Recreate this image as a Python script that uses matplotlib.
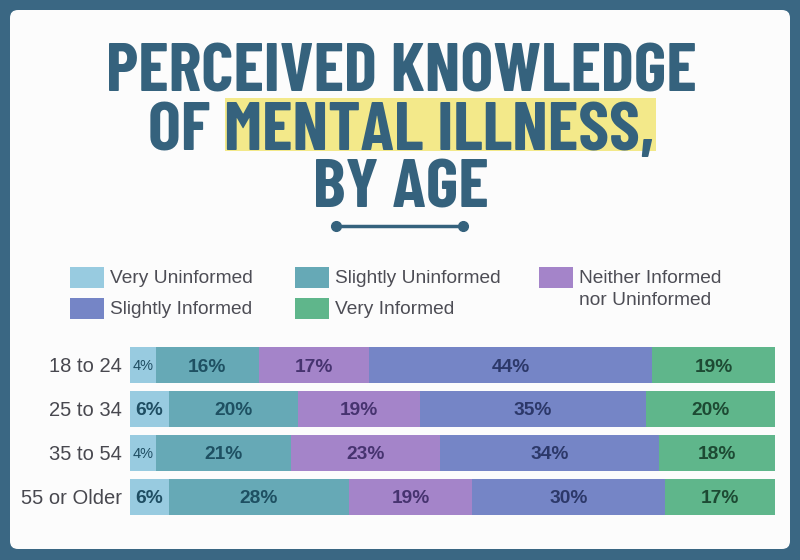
import matplotlib
matplotlib.use("Agg")
import matplotlib.pyplot as plt
from matplotlib.patches import FancyBboxPatch, Rectangle
import numpy as np

# ---------------- data ----------------
ages = ["18 to 24", "25 to 34", "35 to 54", "55 or Older"]
categories = ["Very Uninformed", "Slightly Uninformed", "Neither Informed\nnor Uninformed",
              "Slightly Informed", "Very Informed"]
very_uninformed = [4, 6, 4, 6]
slightly_uninformed = [16, 20, 21, 28]
neither = [17, 19, 23, 19]
slightly_informed = [44, 35, 34, 30]
very_informed = [19, 20, 18, 17]
series = [very_uninformed, slightly_uninformed, neither, slightly_informed, very_informed]
title = "PERCEIVED KNOWLEDGE\nOF MENTAL ILLNESS,\nBY AGE"

colors = ["#98cbe0", "#66a9b6", "#a484c9", "#7585c6", "#5fb68b"]
text_colors = ["#1f4e63", "#1e5062", "#46336f", "#2c3869", "#1d4a33"]

fig = plt.figure(figsize=(8, 5.6), dpi=100)
fig.patch.set_facecolor("#3a6783")

bg = fig.add_axes([0, 0, 1, 1])
bg.set_xlim(0, 800)
bg.set_ylim(560, 0)
bg.axis("off")

panel = FancyBboxPatch((10, 10), 780, 539, boxstyle="round,pad=0,rounding_size=8",
                       facecolor="#fcfcfc", edgecolor="none")
bg.add_patch(panel)

title_color = "#35627d"
# highlight behind "MENTAL ILLNESS,"
bg.add_patch(Rectangle((225, 98), 431, 53, facecolor="#f3e98a", edgecolor="none"))
bg.text(401, 208, title, fontsize=50, fontweight="bold", color=title_color,
        ha="center", va="baseline", multialignment="center", linespacing=0.945,
        family=["Barlow Condensed", "DejaVu Sans"])

bg.plot([336, 463], [226, 226], color=title_color, lw=2.5, solid_capstyle="butt")
bg.plot([336, 463], [226, 226], "o", color=title_color, ms=7)

# legend
sans = ["Liberation Sans", "DejaVu Sans"]
leg_pos = [(70, 267), (295, 267), (539, 267), (70, 298), (295, 298)]
for (x, y), lab, c in zip(leg_pos, categories, colors):
    bg.add_patch(Rectangle((x, y), 34, 21, facecolor=c, edgecolor="none"))
    bg.text(x + 40, y + 3, lab, fontsize=13.8, color="#4d4d55", ha="left", va="top",
            linespacing=1.42, family=sans)

# bars
ax = fig.add_axes([130 / 800, 1 - 514.5 / 560, 645 / 800, 167.5 / 560])
ax.set_facecolor("none")
y = np.arange(len(ages))
left = np.zeros(len(ages))
for vals, c, tc in zip(series, colors, text_colors):
    vals = np.array(vals, dtype=float)
    ax.barh(y, vals, left=left, height=0.82, color=c, edgecolor="none")
    for yi, v, l in zip(y, vals, left):
        small = v < 5
        ax.text(l + v / 2, yi + (0.115 if small else 0.15), f"{int(v)}%", ha="center",
                va="baseline", fontsize=10.5 if small else 13.8,
                color=tc, family=sans, fontweight="normal" if small else "bold")
    left += vals
ax.set_xlim(0, 100)
ax.set_ylim(len(ages) - 1 + 0.41, -0.41)
ax.set_yticks(y)
ax.set_yticklabels(ages, fontsize=14.5, color="#48484f", family=sans)
ax.tick_params(axis="y", length=0, pad=6)
ax.set_xticks([])
for s in ax.spines.values():
    s.set_visible(False)

fig.savefig("out.png", dpi=100, facecolor=fig.get_facecolor())
